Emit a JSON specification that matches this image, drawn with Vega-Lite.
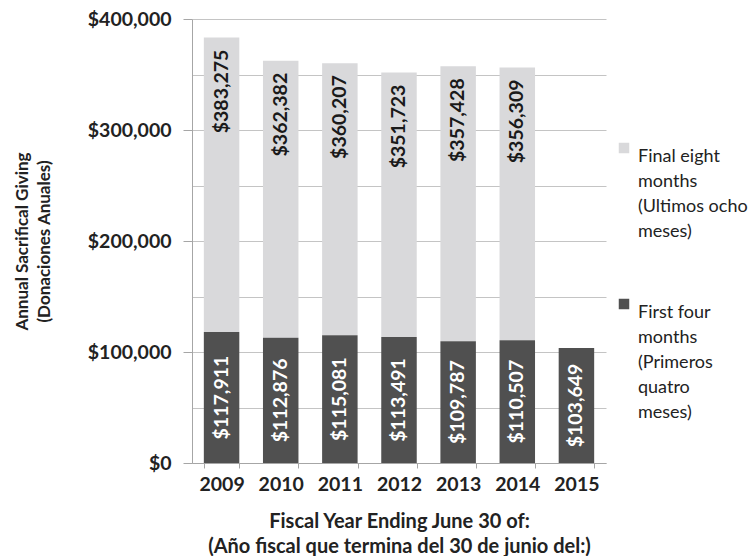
{
  "$schema": "https://vega.github.io/schema/vega-lite/v6.json",
  "width": 414,
  "height": 444,
  "autosize": {"type": "none"},
  "padding": {"left": 192, "top": 19, "right": 144, "bottom": 93},
  "background": "white",
  "config": {
    "view": {"stroke": null},
    "font": "Lato",
    "style": {"guide-label": {"lineHeight": 25}}
  },
  "data": {
    "values": [
      {"year": "2009", "first4": 117911, "total": 383275},
      {"year": "2010", "first4": 112876, "total": 362382},
      {"year": "2011", "first4": 115081, "total": 360207},
      {"year": "2012", "first4": 113491, "total": 351723},
      {"year": "2013", "first4": 109787, "total": 357428},
      {"year": "2014", "first4": 110507, "total": 356309},
      {"year": "2015", "first4": 103649, "total": null}
    ]
  },
  "encoding": {
    "x": {
      "field": "year",
      "type": "ordinal",
      "scale": {"paddingInner": 0.4, "paddingOuter": 0.2},
      "axis": {
        "labelAngle": 0,
        "labelFont": "Lato",
        "labelFontSize": 19.5,
        "labelFontWeight": "bold",
        "labelColor": "#222222",
        "labelPadding": 7,
        "tickBand": "extent",
        "ticks": true,
        "tickSize": 5,
        "tickColor": "#a6a6a6",
        "domainColor": "#a6a6a6",
        "title": ["Fiscal Year Ending June 30 of:", "(Año fiscal que termina del 30 de junio del:)"],
        "titleFont": "Lato",
        "titleFontSize": 20,
        "titleFontWeight": "bold",
        "titleColor": "#222222",
        "titleLineHeight": 25,
        "titlePadding": 18
      }
    }
  },
  "layer": [
    {
      "transform": [{"filter": "datum.total != null"}],
      "mark": {"type": "bar"},
      "encoding": {
        "y": {
          "field": "first4",
          "type": "quantitative",
          "scale": {"domain": [0, 400000]},
          "axis": {
            "values": [0, 25000, 50000, 75000, 100000, 125000, 150000, 175000, 200000, 225000, 250000, 275000, 300000, 325000, 350000, 375000, 400000],
            "format": "$,.0f",
            "labelExpr": "datum.value % 100000 == 0 ? datum.label : ''",
            "labelFont": "Lato",
            "labelFontSize": 19.5,
            "labelFontWeight": "bold",
            "labelColor": "#222222",
            "labelPadding": 12,
            "grid": true,
            "gridColor": "#c4c4c4",
            "gridWidth": 1,
            "domainColor": "#a6a6a6",
            "tickColor": "#a6a6a6",
            "tickSize": 9,
            "tickOpacity": {"condition": {"test": "datum.value % 100000 == 0", "value": 1}, "value": 0},
            "title": ["Annual Sacrifical Giving", "(Donaciones Anuales)"],
            "titleFont": "Lato",
            "titleFontSize": 17,
            "titleFontWeight": "bold",
            "titleColor": "#222222",
            "titleLineHeight": 22,
            "titlePadding": 34
          }
        },
        "y2": {"field": "total"},
        "color": {
          "datum": "Final eight|months|(Ultimos ocho|meses)",
          "type": "nominal",
          "scale": {
            "domain": ["Final eight|months|(Ultimos ocho|meses)", "First four|months|(Primeros|quatro|meses)"],
            "range": ["#d9d9db", "#505050"]
          },
          "legend": {
            "orient": "none",
            "legendX": 423,
            "legendY": 120,
            "title": null,
            "padding": 0,
            "symbolType": "square",
            "symbolSize": 110,
            "symbolStrokeWidth": 0,
            "labelExpr": "split(datum.label, '|')",
            "labelFont": "Lato",
            "labelFontSize": 18,
            "labelColor": "#222222",
            "labelBaseline": "top",
            "labelOffset": 5,
            "labelLimit": 300,
            "rowPadding": 54
          }
        }
      }
    },
    {
      "mark": {"type": "bar"},
      "encoding": {
        "y": {"field": "first4", "type": "quantitative"},
        "color": {"datum": "First four|months|(Primeros|quatro|meses)", "type": "nominal"}
      }
    },
    {
      "transform": [{"filter": "datum.total != null"}],
      "mark": {"type": "text", "angle": 270, "align": "right", "baseline": "middle", "dx": -12, "font": "Lato", "fontSize": 19.5, "fontWeight": "bold", "color": "#1a1a1a"},
      "encoding": {
        "y": {"field": "total", "type": "quantitative"},
        "text": {"field": "total", "type": "quantitative", "format": "$,.0f"}
      }
    },
    {
      "mark": {"type": "text", "angle": 270, "align": "center", "baseline": "middle", "dx": {"expr": "(scale('y', datum.first4) - scale('y', 0)) / 2"}, "font": "Lato", "fontSize": 19.5, "fontWeight": "bold", "color": "white"},
      "encoding": {
        "y": {"field": "first4", "type": "quantitative"},
        "text": {"field": "first4", "type": "quantitative", "format": "$,.0f"}
      }
    }
  ]
}
